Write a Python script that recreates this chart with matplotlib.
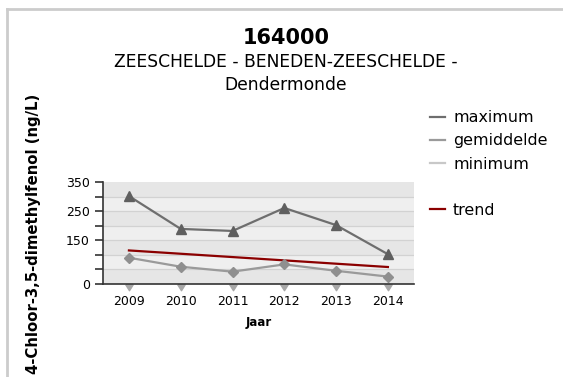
import matplotlib.pyplot as plt
from matplotlib.lines import Line2D

years = [2009, 2010, 2011, 2012, 2013, 2014]
maximum = [302, 189, 182, 261, 202, 102]
gemiddelde = [90, 59, 42, 67, 45, 25]
minimum = [0, 0, 0, 0, 0, 0]
trend = [115, 58]  # trend line from 2009 to 2014

ytick_vals = [0, 50, 100, 150, 200, 250, 300, 350]
ytick_labels = ['0', '', '', '150', '', '250', '', '350']

fig = plt.figure(figsize=(5.63, 3.77), dpi=100)
ax = fig.add_axes([0.183, 0.247, 0.552, 0.270])

# alternating background bands
for i in range(len(ytick_vals) - 1):
    col = '#e6e6e6' if i % 2 == 0 else '#efefef'
    ax.axhspan(ytick_vals[i], ytick_vals[i + 1], color=col, zorder=0, lw=0)
for v in ytick_vals[1:-1]:
    ax.axhline(v, color='#d2d2d2', lw=0.9, zorder=1)

# downward triangle hanging below the value (used for minimum)
down_tri = [(-1, -0.1), (1, -0.1), (0, -1.7), (-1, -0.1)]

ax.plot(years, maximum, color='#6e6e6e', lw=1.6, marker='^', ms=7,
        mfc='#5f5f5f', mec='#5f5f5f', zorder=4)
ax.plot(years, gemiddelde, color='#9a9a9a', lw=1.6, marker='D', ms=5,
        mfc='#8f8f8f', mec='#8f8f8f', zorder=4)
ax.plot(years, minimum, color='#c8c8c8', lw=1.6, ls='none', marker=down_tri,
        ms=9, mfc='#a8a8a8', mec='#a8a8a8', zorder=5, clip_on=False)
ax.plot([years[0], years[-1]], trend, color='#8b0000', lw=1.6, zorder=3)

ax.set_xlim(2008.5, 2014.5)
ax.set_ylim(0, 350)
ax.set_xticks(years)
ax.set_xticklabels([str(y) for y in years], fontsize=9)
ax.set_yticks(ytick_vals)
ax.set_yticklabels(ytick_labels, fontsize=9)
ax.tick_params(axis='x', length=0, pad=8)
ax.tick_params(axis='y', length=6, width=1.2, color='#333333')
for s in ['top', 'right']:
    ax.spines[s].set_visible(False)
for s in ['left', 'bottom']:
    ax.spines[s].set_color('#333333')
    ax.spines[s].set_linewidth(1.2)
    ax.spines[s].set_zorder(6)
ax.set_xlabel('Jaar', fontsize=8.5, fontweight='bold', labelpad=6)

fig.text(0.060, 0.379, '4-Chloor-3,5-dimethylfenol (ng/L)', rotation=90,
         fontsize=10.7, fontweight='bold', ha='center', va='center')

fig.text(0.508, 0.899, '164000', fontsize=15, fontweight='bold',
         ha='center', va='center')
fig.text(0.508, 0.836, 'ZEESCHELDE - BENEDEN-ZEESCHELDE -', fontsize=12.3,
         ha='center', va='center')
fig.text(0.508, 0.774, 'Dendermonde', fontsize=12.3, ha='center', va='center')

handles = [
    Line2D([], [], color='#6e6e6e', lw=1.6),
    Line2D([], [], color='#9a9a9a', lw=1.6),
    Line2D([], [], color='#c8c8c8', lw=1.6),
    Line2D([], [], color='none'),
    Line2D([], [], color='#8b0000', lw=1.6),
]
labels = ['maximum', 'gemiddelde', 'minimum', '', 'trend']
fig.legend(handles, labels, loc='upper left', bbox_to_anchor=(0.764, 0.708),
           frameon=False, fontsize=11.4, handlelength=0.95, handletextpad=0.5,
           labelspacing=0.52, borderpad=0, borderaxespad=0)

# light frame on the left and top edges
fig.add_artist(Line2D([0.013, 0.013], [0, 0.976], transform=fig.transFigure,
                      color='#cccccc', lw=2))
fig.add_artist(Line2D([0.013, 1.0], [0.976, 0.976], transform=fig.transFigure,
                      color='#cccccc', lw=2))

fig.savefig('out.png', dpi=100)
